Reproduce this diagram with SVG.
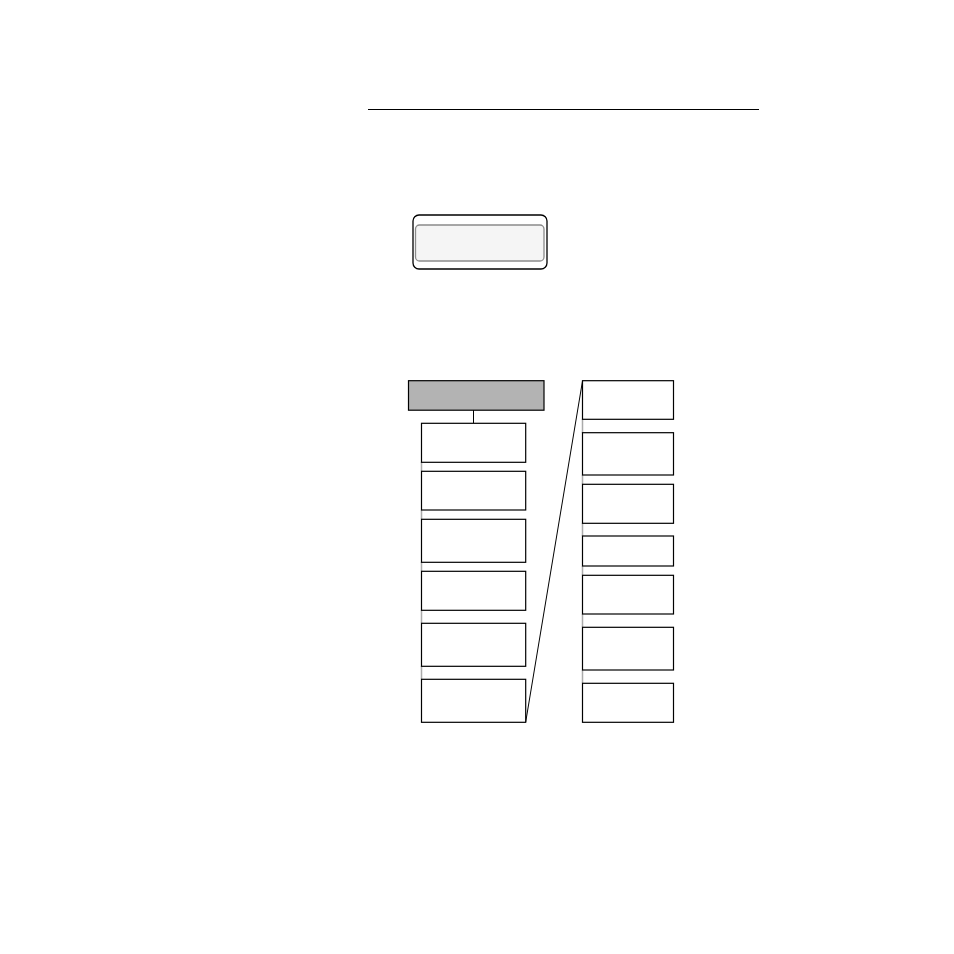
<svg xmlns="http://www.w3.org/2000/svg" width="954" height="954" viewBox="0 0 954 954">
<style>
.box{fill:#fff;stroke:#000;stroke-width:1.2}
.hdr{fill:#b3b3b3;stroke:#000;stroke-width:1.2}
.link{stroke:#aaa;stroke-width:1.5;fill:none}
.line{stroke:#000;stroke-width:1;fill:none}
</style>
<rect width="954" height="954" fill="#fff"/>
<line class="line" x1="368" y1="109.5" x2="759" y2="109.5"/>
<g id="button">
<rect x="413" y="215" width="134" height="54" rx="6" fill="#fff" stroke="#000" stroke-width="1.3"/>
<rect x="415.5" y="225" width="128.5" height="36" rx="4" fill="#f5f5f5" stroke="#8a8a8a" stroke-width="1.3"/>
</g>
<g id="connectors">
<line class="line" x1="473.5" y1="410" x2="473.5" y2="423"/>
<line class="line" x1="525.7" y1="722" x2="582.5" y2="381" stroke="#333"/>
<line class="link" x1="421.5" y1="462" x2="421.5" y2="471"/>
<line class="link" x1="421.5" y1="510" x2="421.5" y2="519"/>
<line class="link" x1="421.5" y1="562" x2="421.5" y2="571"/>
<line class="link" x1="421.5" y1="610" x2="421.5" y2="623"/>
<line class="link" x1="421.5" y1="666" x2="421.5" y2="679"/>
<line class="link" x1="582.5" y1="419" x2="582.5" y2="433"/>
<line class="link" x1="582.5" y1="475" x2="582.5" y2="484"/>
<line class="link" x1="582.5" y1="523" x2="582.5" y2="536"/>
<line class="link" x1="582.5" y1="566" x2="582.5" y2="575"/>
<line class="link" x1="582.5" y1="614" x2="582.5" y2="627"/>
<line class="link" x1="582.5" y1="670" x2="582.5" y2="683"/>
</g>
<g id="header"><rect class="hdr" x="408.5" y="380.7" width="135.5" height="29.5"/></g>
<g id="l1"><rect class="box" x="421.5" y="423.3" width="104.2" height="39"/></g>
<g id="l2"><rect class="box" x="421.5" y="471.3" width="104.2" height="38.7"/></g>
<g id="l3"><rect class="box" x="421.5" y="519.3" width="104.2" height="43"/></g>
<g id="l4"><rect class="box" x="421.5" y="571.3" width="104.2" height="39"/></g>
<g id="l5"><rect class="box" x="421.5" y="623.3" width="104.2" height="43"/></g>
<g id="l6"><rect class="box" x="421.5" y="679.3" width="104.2" height="43"/></g>
<g id="r1"><rect class="box" x="582.5" y="380.7" width="91" height="38.6"/></g>
<g id="r2"><rect class="box" x="582.5" y="432.7" width="91" height="42.3"/></g>
<g id="r3"><rect class="box" x="582.5" y="484.3" width="91" height="39"/></g>
<g id="r4"><rect class="box" x="582.5" y="536" width="91" height="30"/></g>
<g id="r5"><rect class="box" x="582.5" y="575.3" width="91" height="38.7"/></g>
<g id="r6"><rect class="box" x="582.5" y="627.3" width="91" height="42.7"/></g>
<g id="r7"><rect class="box" x="582.5" y="683.3" width="91" height="39"/></g>
</svg>
